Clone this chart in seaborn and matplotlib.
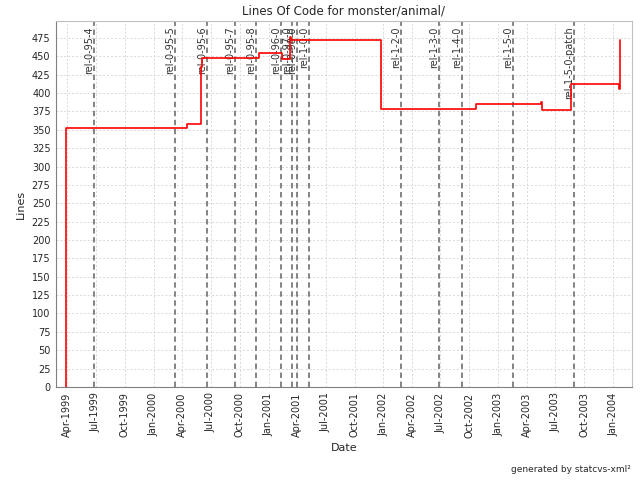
import pandas as pd
import numpy as np
import matplotlib
matplotlib.use('Agg')
import matplotlib.pyplot as plt
import matplotlib.dates as mdates
import seaborn as sns

# Lines of code over time (step changes at each commit)
commit_dates = ['1999-03-29', '1999-03-29', '2000-04-15', '2000-05-30', '2000-06-03',
                '2000-12-01', '2001-02-12', '2001-03-09', '2001-03-13', '2001-12-24',
                '2002-10-22', '2003-05-17', '2003-05-19', '2003-08-21', '2004-01-19',
                '2004-01-22']
loc_values = [0, 352, 358, 435, 448, 455, 446, 476, 472, 378, 385, 388, 377, 413, 406, 472]

# Release tags
tag_names = ['rel-0-95-4', 'rel-0-95-5', 'rel-0-95-6', 'rel-0-95-7', 'rel-0-95-8',
             'rel-0-96-0', 'rel-0-97-0', 'rel-0-98-0', 'rel-1-0-0', 'rel-1-2-0',
             'rel-1-3-0', 'rel-1-4-0', 'rel-1-5-0', 'rel-1-5-0-patch']
tag_dates = ['1999-06-27', '2000-03-10', '2000-06-20', '2000-09-17', '2000-11-23',
             '2001-02-10', '2001-03-16', '2001-03-31', '2001-05-09', '2002-02-26',
             '2002-06-27', '2002-09-09', '2003-02-17', '2003-08-31']

data = pd.DataFrame({'Date': pd.to_datetime(commit_dates), 'Lines': loc_values})

sns.set_style('white')
fig = plt.figure(figsize=(6.4, 4.8), dpi=100)
ax = fig.add_axes([0.0875, 0.194, 0.9, 0.762])

# vertical tag lines
for name, d in zip(tag_names, pd.to_datetime(tag_dates)):
    ax.axvline(d, color='#7a7a7a', lw=1.3, linestyle=(0, (3, 2)), zorder=2)
    ax.text(d, 0.985, name, rotation=90, ha='right', va='top', fontsize=7,
            color='#333333', transform=ax.get_xaxis_transform(), zorder=3)

sns.lineplot(data=data, x='Date', y='Lines', drawstyle='steps-post', estimator=None,
             sort=False, color='red', lw=1.2, ax=ax, zorder=4)

ax.set_xlim(pd.Timestamp('1999-02-25'), pd.Timestamp('2004-03-01'))
ax.set_ylim(0, 498)
ax.set_yticks(np.arange(0, 476, 25))
ax.xaxis.set_major_locator(mdates.MonthLocator(bymonth=[1, 4, 7, 10]))
ax.xaxis.set_major_formatter(mdates.DateFormatter('%b-%Y'))
plt.setp(ax.get_xticklabels(), rotation=90)
ax.tick_params(axis='both', labelsize=7, length=2, color='#808080', pad=2)

ax.grid(True, color='#d8d8d8', linestyle=(0, (2, 2)), lw=0.7)
ax.set_axisbelow(True)
for side in ['left', 'bottom']:
    ax.spines[side].set_color('#808080')
for side in ['top', 'right']:
    ax.spines[side].set_color('#c0c0c0')

ax.set_title('Lines Of Code for monster/animal/', fontsize=8.5, pad=5)
ax.set_xlabel('Date', fontsize=8)
ax.set_ylabel('Lines', fontsize=8)
fig.text(0.985, 0.012, 'generated by statcvs-xml²', ha='right', va='bottom', fontsize=6.5)

plt.savefig('out.png', dpi=100)
